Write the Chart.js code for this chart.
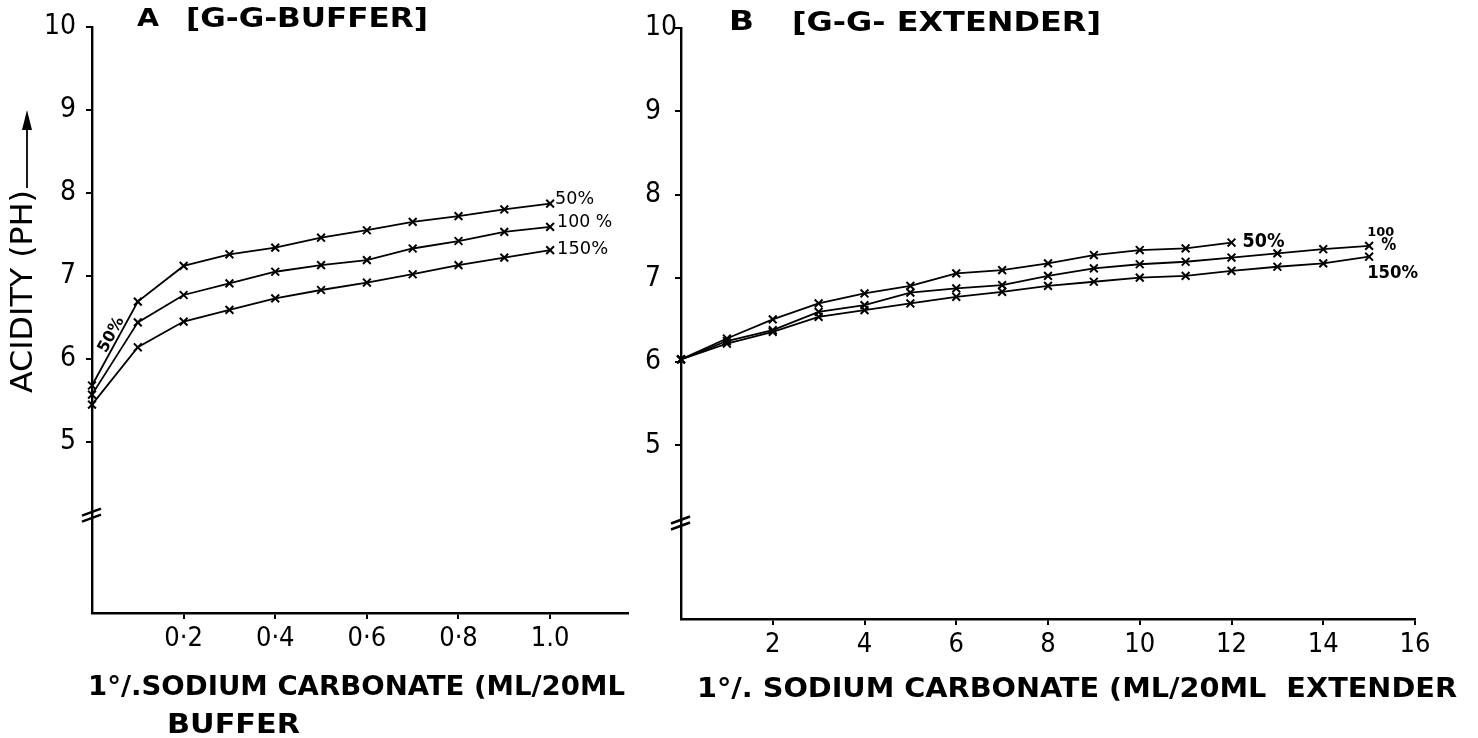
<!DOCTYPE html>
<html>
<head>
<meta charset="utf-8">
<script src="https://cdn.jsdelivr.net/npm/chart.js@4"></script>
<style>
  html, body { margin: 0; padding: 0; background: #fff; }
  body { width: 1478px; height: 738px; position: relative; overflow: hidden; }
  #wrapA { position: absolute; left: 0; top: 0; width: 650px; height: 738px; }
  #wrapB { position: absolute; left: 645px; top: 0; width: 833px; height: 738px; }
</style>
</head>
<body>
<div id="wrapA"><canvas id="chartA"></canvas></div>
<div id="wrapB"><canvas id="chartB"></canvas></div>
<script>
// A: G-G buffer, pH vs ml of 1% sodium carbonate
const bufferDose = [0, 0.1, 0.2, 0.3, 0.4, 0.5, 0.6, 0.7, 0.8, 0.9, 1.0];
const buffer50 = [5.68, 6.69, 7.12, 7.26, 7.34, 7.46, 7.55, 7.65, 7.72, 7.80, 7.87];
const buffer100 = [5.57, 6.44, 6.77, 6.91, 7.05, 7.13, 7.19, 7.33, 7.42, 7.53, 7.59];
const buffer150 = [5.45, 6.14, 6.45, 6.59, 6.73, 6.83, 6.92, 7.02, 7.13, 7.22, 7.31];
const bufferTicks = [0.2, 0.4, 0.6, 0.8, 1.0];
const bufferTickLabels = ['0·2', '0·4', '0·6', '0·8', '1.0'];

// B: G-G extender
const extenderDose = [0, 1, 2, 3, 4, 5, 6, 7, 8, 9, 10, 11, 12, 13, 14, 15];
const extender50 = [6.03, 6.28, 6.51, 6.70, 6.82, 6.91, 7.06, 7.10, 7.18, 7.28, 7.34, 7.36, 7.43];
const extender100 = [6.03, 6.25, 6.38, 6.60, 6.68, 6.83, 6.88, 6.92, 7.03, 7.12, 7.17, 7.20, 7.25, 7.30, 7.35, 7.39];
const extender150 = [6.03, 6.22, 6.36, 6.54, 6.62, 6.70, 6.78, 6.84, 6.91, 6.96, 7.01, 7.03, 7.09, 7.14, 7.18, 7.26];
const extenderTicks = [2, 4, 6, 8, 10, 12, 14, 16];
const extenderTickLabels = ['2', '4', '6', '8', '10', '12', '14', '16'];

const phTicks = [5, 6, 7, 8, 9, 10];

const FONT = '"Liberation Sans Narrow", "DejaVu Sans Condensed", "Liberation Sans", sans-serif';

// draw text squeezed/stretched to a given width (hand lettering is uneven)
function fitText(ctx, text, x, y, width, size, angle, weight) {
    ctx.save();
    ctx.font = (weight || 'bold') + ' ' + size + 'px ' + FONT;
    const w = ctx.measureText(text).width;
    ctx.translate(x, y);
    if (angle) ctx.rotate(angle);
    ctx.scale(width / w, 1);
    ctx.fillStyle = '#000';
    ctx.textAlign = 'left';
    ctx.textBaseline = 'alphabetic';
    ctx.fillText(text, 0, 0);
    ctx.restore();
}

function line(ctx, x1, y1, x2, y2, w) {
    ctx.beginPath();
    ctx.moveTo(x1, y1);
    ctx.lineTo(x2, y2);
    ctx.lineWidth = w || 2;
    ctx.strokeStyle = '#000';
    ctx.stroke();
}

function series(xs, ys) {
    return {
        data: ys.map((y, i) => ({ x: xs[i], y: y })),
        borderColor: '#000',
        borderWidth: 1.8,
        pointStyle: 'crossRot',
        pointRadius: 5.5,
        pointBorderWidth: 2,
        pointBorderColor: '#000',
        tension: 0,
        clip: false,
    };
}

function makeChart(id, cfg) {
    return new Chart(document.getElementById(id), {
        type: 'line',
        data: { datasets: cfg.datasets },
        options: {
            responsive: true,
            maintainAspectRatio: false,
            animation: false,
            events: [],
            layout: { padding: cfg.padding },
            plugins: { legend: { display: false }, tooltip: { enabled: false } },
            scales: {
                x: {
                    type: 'linear',
                    min: 0,
                    max: cfg.xMax,
                    afterBuildTicks: (s) => { s.ticks = cfg.xTicks.map(v => ({ value: v })); },
                    afterFit: (s) => { s.height = cfg.xAxisHeight; },
                    ticks: {
                        color: '#000',
                        font: { family: FONT, size: 27 },
                        padding: 4,
                        maxRotation: 0,
                        autoSkip: false,
                        callback: (v) => cfg.xLabels[cfg.xTicks.indexOf(v)],
                    },
                    grid: { drawOnChartArea: false, drawTicks: true, tickLength: 6, color: '#000', lineWidth: 2 },
                    border: { display: true, color: '#000', width: 2.4 },
                },
                y: {
                    min: cfg.yMin,
                    max: 10,
                    afterBuildTicks: (s) => { s.ticks = phTicks.map(v => ({ value: v })); },
                    afterFit: (s) => { s.width = cfg.yAxisWidth; },
                    ticks: {
                        color: '#000',
                        font: { family: FONT, size: 28 },
                        padding: cfg.yPad,
                        crossAlign: cfg.yAlign,
                    },
                    grid: { drawOnChartArea: false, drawTicks: true, tickLength: 6, color: '#000', lineWidth: 2 },
                    border: { display: true, color: '#000', width: 2.4 },
                },
            },
        },
        plugins: [{ id: 'notes_' + id, afterDraw: cfg.notes }],
    });
}

function lastPoint(chart, xs, ys) {
    const i = ys.length - 1;
    return {
        x: chart.scales.x.getPixelForValue(xs[i]),
        y: chart.scales.y.getPixelForValue(ys[i]),
    };
}

function breakMark(chart, value) {
    const ctx = chart.ctx;
    const x = chart.scales.x.left;
    const y = chart.scales.y.getPixelForValue(value);
    line(ctx, x - 10, y + 3, x + 9, y - 4, 2.4);
    line(ctx, x - 10, y + 9, x + 9, y + 2, 2.4);
}

makeChart('chartA', {
    datasets: [series(bufferDose, buffer50), series(bufferDose, buffer100), series(bufferDose, buffer150)],
    padding: { left: 0, right: 22, top: 23, bottom: 0 },
    xMax: 1.17,
    xTicks: bufferTicks,
    xLabels: bufferTickLabels,
    xAxisHeight: 125,
    yMin: 2.94,
    yAxisWidth: 92,
    yPad: 10,
    yAlign: 'near',
    notes: (chart) => {
        const ctx = chart.ctx;
        fitText(ctx, 'A', 137, 26, 22, 24);
        fitText(ctx, '[G-G-BUFFER]', 186, 27, 242, 26);
        fitText(ctx, 'ACIDITY (PH)', 32, 393, 203, 30, -Math.PI / 2, 'normal');
        // arrow next to axis title
        line(ctx, 27, 188, 27, 124, 1.8);
        ctx.save();
        ctx.fillStyle = '#000';
        ctx.beginPath();
        ctx.moveTo(27, 110);
        ctx.lineTo(22, 130);
        ctx.lineTo(32, 130);
        ctx.closePath();
        ctx.fill();
        ctx.restore();
        fitText(ctx, '1°/.SODIUM CARBONATE (ML/20ML', 88, 695, 537, 27);
        fitText(ctx, 'BUFFER', 167, 733, 133, 27);
        let p = lastPoint(chart, bufferDose, buffer50);
        fitText(ctx, '50%', p.x + 5, p.y, 39, 17, 0, 'normal');
        p = lastPoint(chart, bufferDose, buffer100);
        fitText(ctx, '100 %', p.x + 7, p.y, 55, 17, 0, 'normal');
        p = lastPoint(chart, bufferDose, buffer150);
        fitText(ctx, '150%', p.x + 7, p.y + 4, 51, 17, 0, 'normal');
        // label written along the steep first segment of the 50% curve
        const sx = chart.scales.x, sy = chart.scales.y;
        const x0 = sx.getPixelForValue(bufferDose[0]), y0 = sy.getPixelForValue(buffer50[0]);
        const x1 = sx.getPixelForValue(bufferDose[1]), y1 = sy.getPixelForValue(buffer50[1]);
        const ang = Math.atan2(y1 - y0, x1 - x0);
        fitText(ctx, '50%', x0 + 14, y0 - 32, 38, 16, ang);
        breakMark(chart, 4.15);
    },
});

makeChart('chartB', {
    datasets: [series(extenderDose, extender50), series(extenderDose, extender100), series(extenderDose, extender150)],
    padding: { left: 0, right: 63, top: 28, bottom: 0 },
    xMax: 16,
    xTicks: extenderTicks,
    xLabels: extenderTickLabels,
    xAxisHeight: 119,
    yMin: 2.92,
    yAxisWidth: 36,
    yPad: 4,
    yAlign: 'far',
    notes: (chart) => {
        const ctx = chart.ctx;
        const o = 645; // canvas offset on the page
        fitText(ctx, 'B', 729 - o, 30, 25, 26);
        fitText(ctx, '[G-G- EXTENDER]', 792 - o, 31, 309, 27);
        fitText(ctx, '1°/. SODIUM CARBONATE (ML/20ML  EXTENDER', 697 - o, 697, 760, 27);
        let p = lastPoint(chart, extenderDose, extender50);
        fitText(ctx, '50%', p.x + 11, p.y + 4, 42, 19);
        p = lastPoint(chart, extenderDose, extender100);
        fitText(ctx, '100', p.x - 2, p.y - 10, 27, 13);
        fitText(ctx, '%', p.x + 12, p.y + 4, 15, 18);
        p = lastPoint(chart, extenderDose, extender150);
        fitText(ctx, '150%', p.x - 2, p.y + 21, 51, 18);
        breakMark(chart, 4.1);
    },
});
</script>
</body>
</html>
